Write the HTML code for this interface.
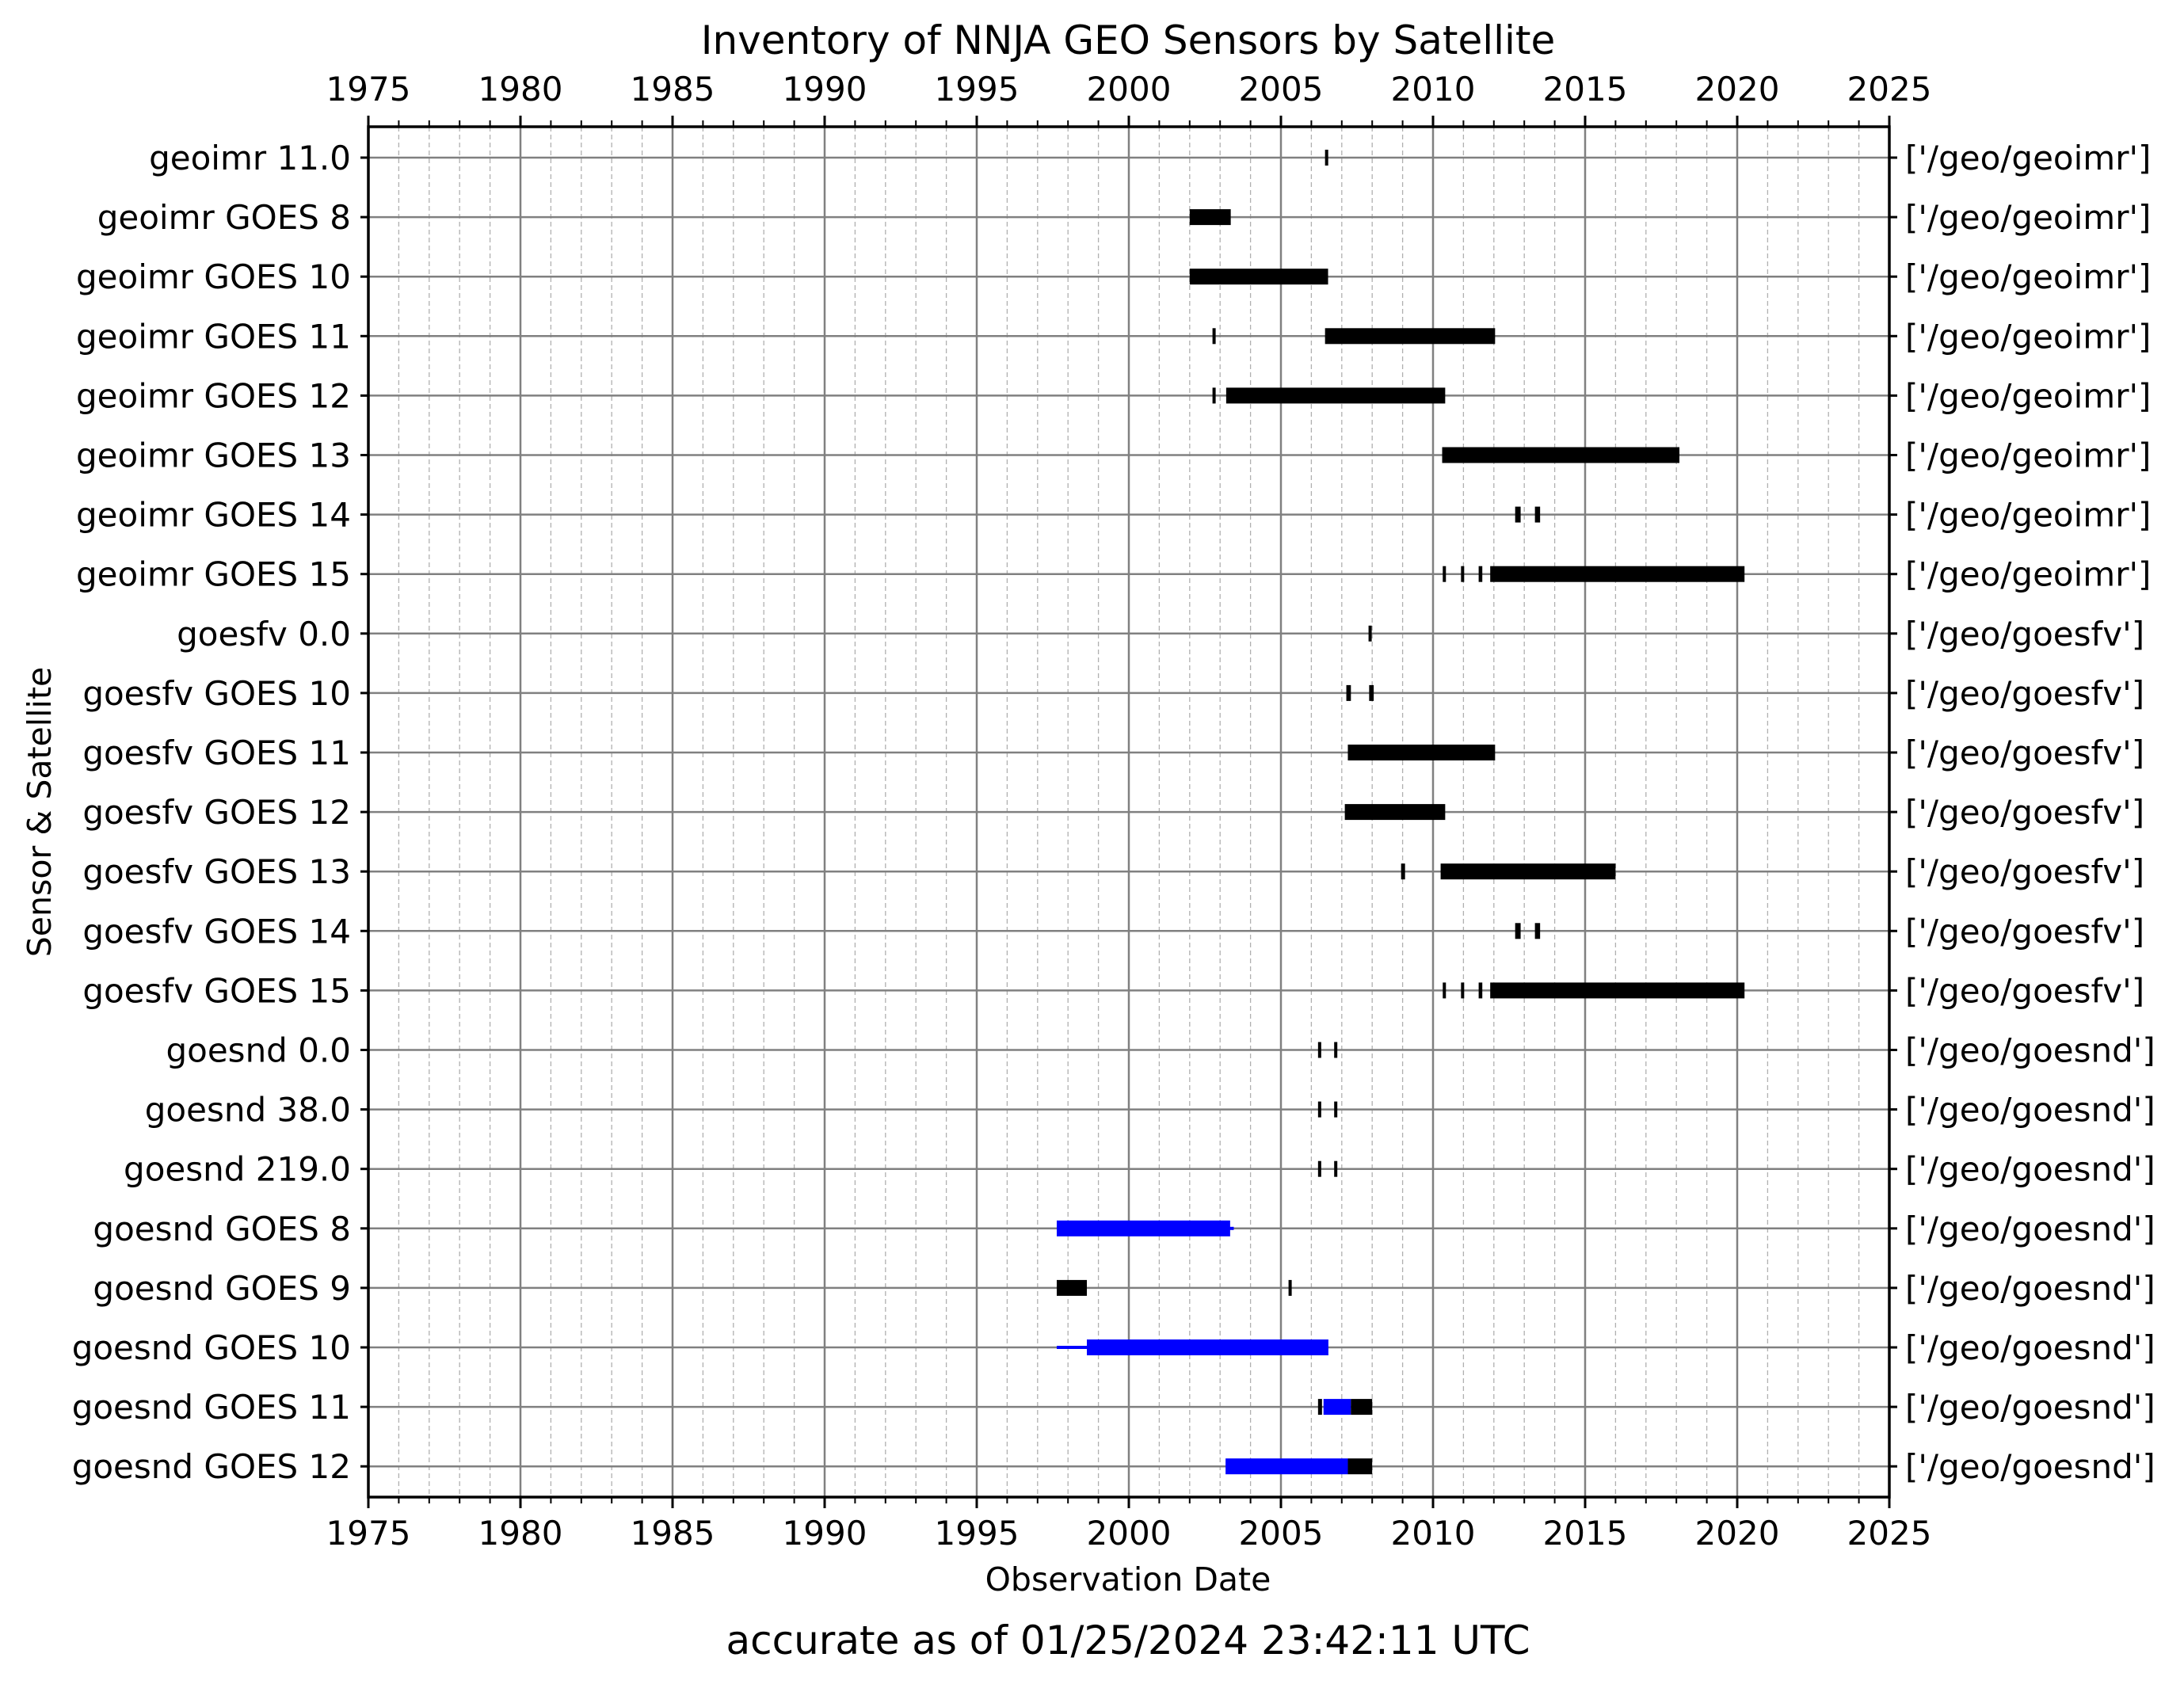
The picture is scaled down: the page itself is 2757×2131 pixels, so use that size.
<!DOCTYPE html>
<html><head><meta charset="utf-8"><style>
html,body{margin:0;padding:0;background:#fff}
svg text{font-family:"DejaVu Sans","Liberation Sans",sans-serif;fill:#000}
</style></head><body>
<svg id="chart" width="2757" height="2126" viewBox="0 0 2757 2126" xmlns="http://www.w3.org/2000/svg">
<rect width="2757" height="2126" fill="#fff"/>
<text x="1424" y="68" font-size="50" text-anchor="middle">Inventory of NNJA GEO Sensors by Satellite</text>
<text x="1424" y="2008" font-size="41" text-anchor="middle">Observation Date</text>
<text transform="translate(64,1025) rotate(-90)" font-size="41" text-anchor="middle">Sensor &amp; Satellite</text>
<text x="1424" y="2088" font-size="50" text-anchor="middle">accurate as of 01/25/2024 23:42:11 UTC</text>
<g id="grid"></g><g id="marks"></g><g id="axes"></g>
</svg>
<script>
const categories=["geoimr 11.0","geoimr GOES 8","geoimr GOES 10","geoimr GOES 11","geoimr GOES 12","geoimr GOES 13","geoimr GOES 14","geoimr GOES 15","goesfv 0.0","goesfv GOES 10","goesfv GOES 11","goesfv GOES 12","goesfv GOES 13","goesfv GOES 14","goesfv GOES 15","goesnd 0.0","goesnd 38.0","goesnd 219.0","goesnd GOES 8","goesnd GOES 9","goesnd GOES 10","goesnd GOES 11","goesnd GOES 12"];
const rightLabels=["['/geo/geoimr']","['/geo/geoimr']","['/geo/geoimr']","['/geo/geoimr']","['/geo/geoimr']","['/geo/geoimr']","['/geo/geoimr']","['/geo/geoimr']","['/geo/goesfv']","['/geo/goesfv']","['/geo/goesfv']","['/geo/goesfv']","['/geo/goesfv']","['/geo/goesfv']","['/geo/goesfv']","['/geo/goesnd']","['/geo/goesnd']","['/geo/goesnd']","['/geo/goesnd']","['/geo/goesnd']","['/geo/goesnd']","['/geo/goesnd']","['/geo/goesnd']"];
const segRow=[0,1,2,3,3,4,4,5,6,6,7,7,7,7,8,9,9,10,11,12,12,13,13,14,14,14,14,15,15,16,16,17,17,18,18,19,19,20,20,21,21,21,22,22];
const segStart=[2006.45,2002.0,2002.0,2002.75,2006.45,2002.75,2003.2,2010.3,2012.7,2013.35,2010.32,2010.92,2011.5,2011.88,2007.88,2007.15,2007.9,2007.2,2007.1,2008.95,2010.25,2012.7,2013.35,2010.32,2010.92,2011.5,2011.88,2006.22,2006.75,2006.22,2006.75,2006.22,2006.75,1997.63,2003.3,1997.63,2005.25,1997.63,1998.62,2006.22,2006.4,2007.3,2003.18,2007.2];
const segEnd=[2006.55,2003.35,2006.55,2002.85,2012.04,2002.85,2010.4,2018.1,2012.88,2013.52,2010.42,2011.02,2011.62,2020.24,2007.98,2007.3,2008.05,2012.04,2010.4,2009.08,2016.0,2012.88,2013.52,2010.42,2011.02,2011.62,2020.24,2006.32,2006.85,2006.32,2006.85,2006.32,2006.85,2003.33,2003.45,1998.62,2005.35,1998.62,2006.56,2006.35,2007.3,2008.0,2007.2,2008.0];
const segColor=["k","k","k","k","k","k","k","k","k","k","k","k","k","k","k","k","k","k","k","k","k","k","k","k","k","k","k","k","k","k","k","k","k","b","b","k","k","b","b","k","b","k","b","k"];
const segThick=[1,1,1,1,1,1,1,1,1,1,1,1,1,1,1,1,1,1,1,1,1,1,1,1,1,1,1,1,1,1,1,1,1,1,0,1,1,0,1,1,1,1,1,1];
const majorTicks=[1975,1980,1985,1990,1995,2000,2005,2010,2015,2020,2025];

const NS="http://www.w3.org/2000/svg";
const L=465,R=2385,T=160,B=1890,Y0=199,DY=75.1;
const xs=y=>L+(y-1975)*(R-L)/50;
const ys=i=>Y0+i*DY;
function mk(tag,attrs,parent){const e=document.createElementNS(NS,tag);for(const k in attrs)e.setAttribute(k,attrs[k]);parent.appendChild(e);return e;}
const grid=document.getElementById('grid'),marks=document.getElementById('marks'),axes=document.getElementById('axes');
for(let y=1976;y<2025;y++){if(y%5===0)continue;
 const g=mk('line',{x1:xs(y),x2:xs(y),y1:T,y2:B,stroke:'#b0b0b0','stroke-width':1.3,'stroke-dasharray':'6,4'},grid);
 
 }
majorTicks.forEach(y=>{const g=mk('line',{x1:xs(y),x2:xs(y),y1:T,y2:B,stroke:'#808080','stroke-width':2.5},grid);
 
 });
categories.forEach((c,i)=>{const g=mk('line',{x1:L,x2:R,y1:ys(i),y2:ys(i),stroke:'#808080','stroke-width':2.5},grid);
 
 
 const t=mk('text',{x:L-22,y:ys(i)+15,'font-size':42,'text-anchor':'end'},axes);t.textContent=c;
 
 
 const rt=mk('text',{x:R+20,y:ys(i)+15,'font-size':42},axes);rt.textContent=rightLabels[i];
 
 
 mk('line',{x1:L-10,x2:L,y1:ys(i),y2:ys(i),stroke:'#000','stroke-width':3},axes);
 mk('line',{x1:R,x2:R+10,y1:ys(i),y2:ys(i),stroke:'#000','stroke-width':3},axes);});
segRow.forEach((r,i)=>{const x1=xs(segStart[i]),x2=xs(segEnd[i]);const h=segThick[i]?20:4;
 const s=mk('rect',{x:x1,y:ys(r)-h/2,width:Math.max(4,x2-x1),height:h,fill:segColor[i]==='b'?'#0000ff':'#000'},marks);
 
 });
mk('rect',{x:L,y:T,width:R-L,height:B-T,fill:'none',stroke:'#000','stroke-width':3.5},axes);
for(let y=1975;y<=2025;y++){const maj=y%5===0,len=maj?14:8;
 mk('line',{x1:xs(y),x2:xs(y),y1:B,y2:B+len,stroke:'#000','stroke-width':maj?3:2},axes);
 mk('line',{x1:xs(y),x2:xs(y),y1:T,y2:T-len,stroke:'#000','stroke-width':maj?3:2},axes);}
majorTicks.forEach(y=>{const t=mk('text',{x:xs(y),y:1950,'font-size':42,'text-anchor':'middle'},axes);t.textContent=y;
 
 
 const t2=mk('text',{x:xs(y),y:127,'font-size':42,'text-anchor':'middle'},axes);t2.textContent=y;
 
 });
</script>
</body></html>
